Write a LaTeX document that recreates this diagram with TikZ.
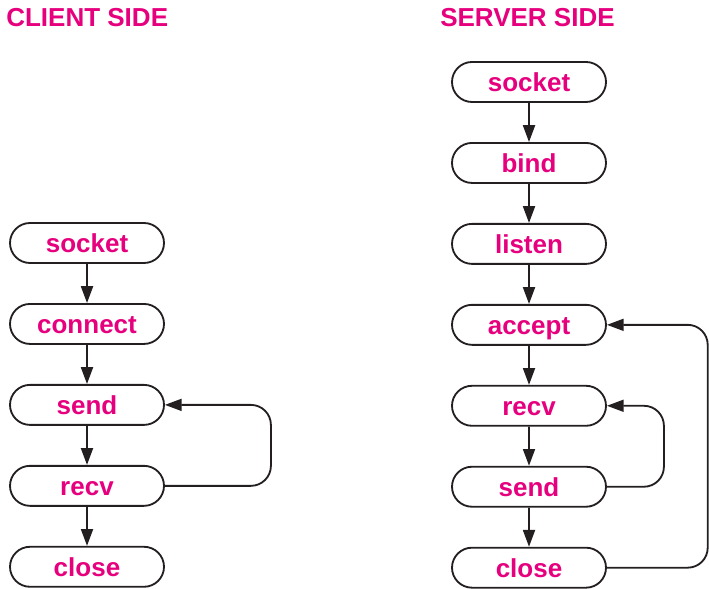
\documentclass[tikz,border=0pt]{standalone}
\usepackage{fontspec}
\setmainfont{Liberation Sans}
\usetikzlibrary{arrows.meta,positioning,shapes.misc}
\definecolor{callmag}{RGB}{230,0,126}
\definecolor{inkline}{RGB}{35,31,32}
\tikzset{
procbox/.style={
  rounded rectangle,
  line width=1.3pt,
  draw=inkline,
  minimum width=3.85cm,
  minimum height=1cm,
  inner sep=0pt,
  text height=18pt,
  text depth=4pt,
  text=callmag,
  font=\fontsize{18.5}{22}\selectfont\bfseries,
  }
}
\tikzset{
flowline/.style={
  line width=1.3pt,
  draw=inkline,
  -{Triangle[length=4.2mm,width=3mm]}
  }
}
\tikzset{
sidetitle/.style={
  anchor=base west,
  inner sep=0pt,
  text=callmag,
  font=\fontsize{18.5}{22}\selectfont\bfseries,
  }
}

\begin{document}
\begin{tikzpicture}[node distance=0.978cm]
    \useasboundingbox (0,0) rectangle (17.725,14.725);

    % titles
    \node[sidetitle] (cltitle) at (0.15,14.05) {CLIENT SIDE};
    \node[sidetitle] (svtitle) at (11.0,14.05) {SERVER SIDE};

    % client part
    \node[procbox] (csock) at (2.175,8.65) {socket};
    \node[procbox, below=of csock] (cconn) {connect};
    \node[procbox, below=of cconn] (csend) {send};
    \node[procbox, below=of csend] (crecv) {recv};
    \node[procbox, below=of crecv] (cclose) {close};

    % server part
    \node[procbox] (ssock) at (13.225,12.675) {socket};
    \node[procbox, below=of ssock] (sbind) {bind};
    \node[procbox, below=of sbind] (slist) {listen};
    \node[procbox, below=of slist] (sacc) {accept};
    \node[procbox, below=of sacc] (srecv) {recv};
    \node[procbox, below=of srecv] (ssend) {send};
    \node[procbox, below=of ssend] (sclose) {close};

    % client edges
    \draw[flowline] (csock) -- (cconn);
    \draw[flowline] (cconn) -- (csend);
    \draw[flowline] (csend) -- (crecv);
    \draw[flowline] (crecv) -- (cclose);
    \draw[flowline, rounded corners=0.5cm] (crecv.east) -- ++(2.65,0) |- (csend.east);

    % server edges
    \draw[flowline] (ssock) -- (sbind);
    \draw[flowline] (sbind) -- (slist);
    \draw[flowline] (slist) -- (sacc);
    \draw[flowline] (sacc) -- (srecv);
    \draw[flowline] (srecv) -- (ssend);
    \draw[flowline] (ssend) -- (sclose);
    \draw[flowline, rounded corners=0.5cm] (ssend.east) -- ++(1.425,0) |- (srecv.east);
    \draw[flowline, rounded corners=0.5cm] (sclose.east) -- ++(2.52,0) |- (sacc.east);
\end{tikzpicture}
\end{document}
